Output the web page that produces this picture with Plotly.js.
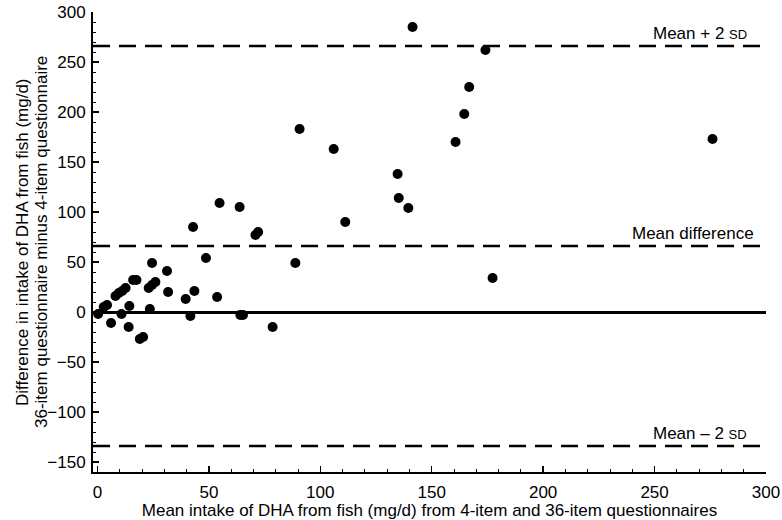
<!DOCTYPE html>
<html>
<head>
<meta charset="utf-8">
<script src="https://cdn.plot.ly/plotly-3.0.1.min.js"></script>
<style>html,body{margin:0;padding:0;background:#fff;}#chart{width:782px;height:520px;}</style>
</head>
<body>
<div id="chart"></div>
<script>
// Mean intake (x) and difference (y), mg/d
const meanIntake = [0.3, 2.8, 4.3, 6.1, 8.1, 9.6, 11.1, 12.6, 10.8, 14.3, 14, 16, 17.5, 19, 20.5,
  24.5, 23, 24.5, 26, 23.5, 31.2, 31.7, 39.6, 41.7, 42.9, 43.5, 48.7, 53.7, 54.8, 63.8,
  64.1, 65.3, 70.9, 72.1, 78.6, 88.8, 90.7, 106, 111.2, 141.4, 174.1, 166.8, 164.6, 160.7,
  134.7, 135.2, 139.5, 177.3, 276];
const difference = [-2, 5, 7, -11, 16, 19, 21, 24, -2, 6, -15, 32, 32, -27, -25,
  49, 24, 27, 30, 3, 41, 20, 13, -4, 85, 21, 54, 15, 109, 105,
  -3, -3, 77, 80, -15, 49, 183, 163, 90, 285, 262, 225, 198, 170,
  138, 114, 104, 34, 173];

// Reference lines
const refLabels = ['Mean + 2 <span style="font-size:13px">SD</span>', 'Mean difference', 'Mean \u2013 2 <span style="font-size:13px">SD</span>'];
const refValues = [266, 66, -134];
const refLabelX = [292.5, 295.5, 292.5];

const xTickVals = [0, 50, 100, 150, 200, 250, 300];
const yTickVals = [-150, -100, -50, 0, 50, 100, 150, 200, 250, 300];

const xTitle = 'Mean intake of DHA from fish (mg/d) from 4-item and 36-item questionnaires';
const yTitleLines = ['Difference in intake of DHA from fish (mg/d)', '36-item questionnaire minus 4-item questionnaire'];
const yTitlePos = [-0.1055, -0.0773];

const font = {family: '"Liberation Sans", Arial, sans-serif', size: 17, color: '#000'};

const trace = {
  x: meanIntake, y: difference, type: 'scatter', mode: 'markers',
  marker: {color: '#000', size: 10, line: {width: 0}},
  hoverinfo: 'skip', cliponaxis: false
};

const shapes = refValues.map(v => ({
  type: 'line', xref: 'paper', x0: 0, x1: 1, yref: 'y', y0: v, y1: v,
  line: {color: '#000', width: 2.5, dash: '17px,9px'}
}));

const annotations = refValues.map((v, i) => ({
  text: refLabels[i], xref: 'x', yref: 'y', x: refLabelX[i], y: v,
  xanchor: 'right', yanchor: 'bottom', showarrow: false, yshift: 1, font: font
}));
yTitleLines.forEach((t, i) => annotations.push({
  text: t, xref: 'paper', yref: 'paper', x: yTitlePos[i], y: 0.5,
  xanchor: 'center', yanchor: 'middle', textangle: -90, showarrow: false,
  font: font
}));

const layout = {
  width: 782, height: 520,
  margin: {l: 93, r: 16, t: 12, b: 48},
  paper_bgcolor: '#fff', plot_bgcolor: '#fff',
  font: font, showlegend: false,
  xaxis: {
    range: [-2, 300], tickvals: xTickVals, ticks: 'inside', ticklen: 6, tickwidth: 1.5,
    tickcolor: '#000', showline: true, linecolor: '#000', linewidth: 2,
    showgrid: false, zeroline: false, tickfont: font, ticklabelstandoff: 4,
    minor: {dtick: 10, ticks: 'inside', ticklen: 3, tickwidth: 1, tickcolor: '#000', showgrid: false},
    title: {text: xTitle, font: font, standoff: 3}
  },
  yaxis: {
    range: [-160, 300], tickvals: yTickVals, ticks: 'inside', ticklen: 6, tickwidth: 1.5,
    tickcolor: '#000', showline: true, linecolor: '#000', linewidth: 2,
    showgrid: false, zeroline: true, zerolinecolor: '#000', zerolinewidth: 3,
    tickfont: font, ticklabelstandoff: 2,
    minor: {dtick: 10, ticks: 'inside', ticklen: 3, tickwidth: 1, tickcolor: '#000', showgrid: false}
  },
  shapes: shapes,
  annotations: annotations
};

Plotly.newPlot('chart', [trace], layout, {displayModeBar: false, staticPlot: true});
</script>
</body>
</html>
